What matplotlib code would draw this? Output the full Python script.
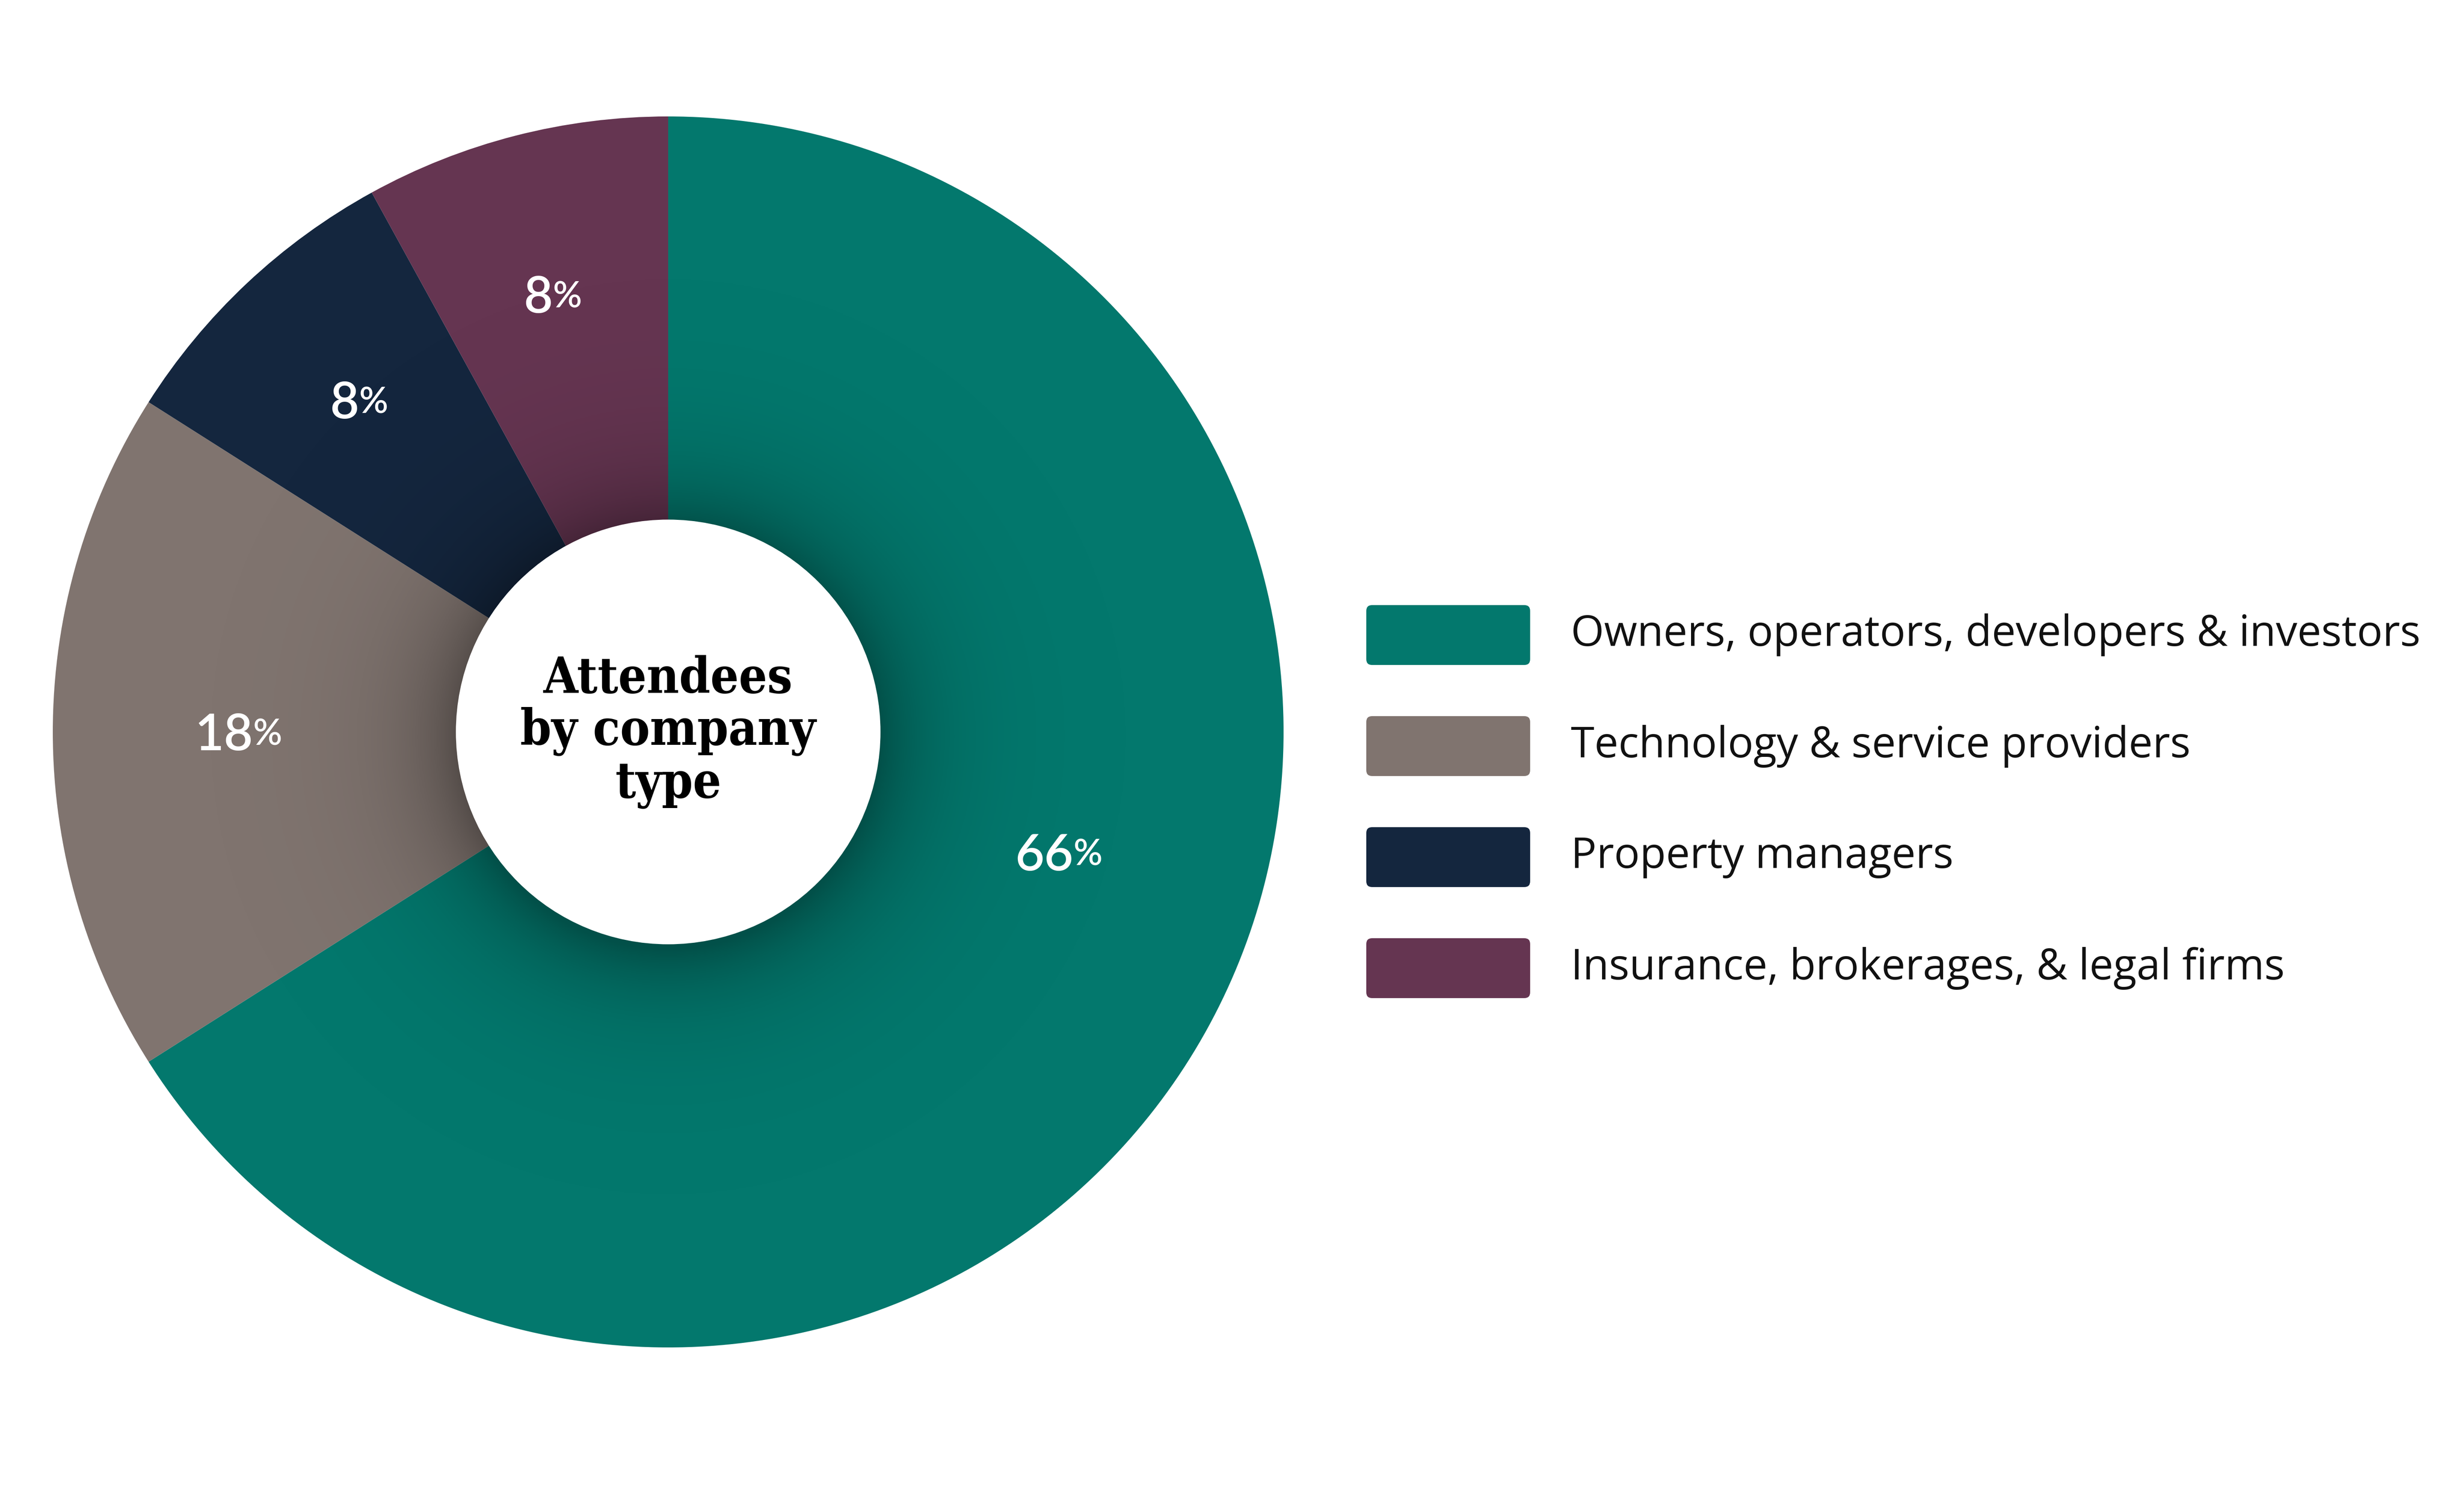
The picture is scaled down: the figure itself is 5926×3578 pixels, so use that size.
import matplotlib
matplotlib.use("Agg")
import matplotlib.pyplot as plt
import numpy as np
from matplotlib.patches import FancyBboxPatch, Circle

categories = ["Owners, operators, developers & investors",
              "Technology & service providers",
              "Property managers",
              "Insurance, brokerages, & legal firms"]
shares = [66, 18, 8, 8]
colors = ["#03786d", "#80746f", "#14263e", "#653551"]
center_title = "Attendees\nby company\ntype"

W, H = 5926, 3578
fig = plt.figure(figsize=(W / 100, H / 100), dpi=100)

# pie axes, R ~ 1480 px, centre ~ (1607, 1760)
R = 1480
cx, cy = 1607, 1760
ax = fig.add_axes([(cx - R) / W, (H - cy - R) / H, 2 * R / W, 2 * R / H])
wedges, _ = ax.pie(shares, colors=colors, startangle=90, counterclock=False,
                   radius=1, wedgeprops=dict(linewidth=0))
ax.set_xlim(-1, 1)
ax.set_ylim(-1, 1)
ax.set_aspect("equal")
ax.axis("off")

# soft shadow around the hole
r_in = 0.345
g = np.linspace(-1, 1, 900)
xx, yy = np.meshgrid(g, g)
rr = np.hypot(xx, yy + 0.008)
alpha = np.where(rr > r_in - 0.01, 0.33 * np.exp(-(rr - r_in) / 0.09), 0.0)
shade = np.zeros((900, 900, 4))
shade[..., 3] = np.clip(alpha, 0, 0.33)
im = ax.imshow(shade, extent=[-1, 1, -1, 1], origin="lower", zorder=3,
               interpolation="bilinear")
im.set_clip_path(Circle((0, 0), 1, transform=ax.transData))
ax.add_patch(Circle((0, 0), r_in, color="white", zorder=4, linewidth=0))
ax.text(0, 0.0, center_title, ha="center", va="center", fontsize=86,
        fontweight="bold", family=["DejaVu Serif Condensed", "DejaVu Serif"],
        fontstretch="condensed", linespacing=1.1, zorder=5)

# percentage labels (centre of the digits)
label_pos = [(0.611, -0.195), (-0.722, 0.0), (-0.526, 0.539), (-0.211, 0.711)]
half_digit = 44 / R
fig.canvas.draw()
renderer = fig.canvas.get_renderer()
for v, (lx, ly) in zip(shares, label_pos):
    base = ly - half_digit
    t = ax.text(lx, base, str(v), ha="center", va="baseline",
                color="white", fontsize=87, family="Lato", fontweight="semibold",
                zorder=5)
    bb = t.get_window_extent(renderer)
    ax.annotate("%", xy=(bb.x1, base), xycoords=("figure pixels", "data"),
                xytext=(0, 9), textcoords="offset points",
                ha="left", va="baseline", color="white", fontsize=62,
                family="Lato", fontweight="semibold", zorder=5,
                annotation_clip=False)

# legend
lax = fig.add_axes([0, 0, 1, 1])
lax.set_xlim(0, W)
lax.set_ylim(H, 0)
lax.axis("off")
for i, (name, c) in enumerate(zip(categories, colors)):
    yc = 1527 + i * 267
    lax.add_patch(FancyBboxPatch((3286, yc - 72), 394, 144,
                                 boxstyle="round,pad=0,rounding_size=14",
                                 facecolor=c, edgecolor="none"))
    lax.text(3778, yc, name, ha="left", va="center", fontsize=74,
             family="Open Sans", color="#111111")

fig.savefig("out.png", dpi=100, facecolor="white")
